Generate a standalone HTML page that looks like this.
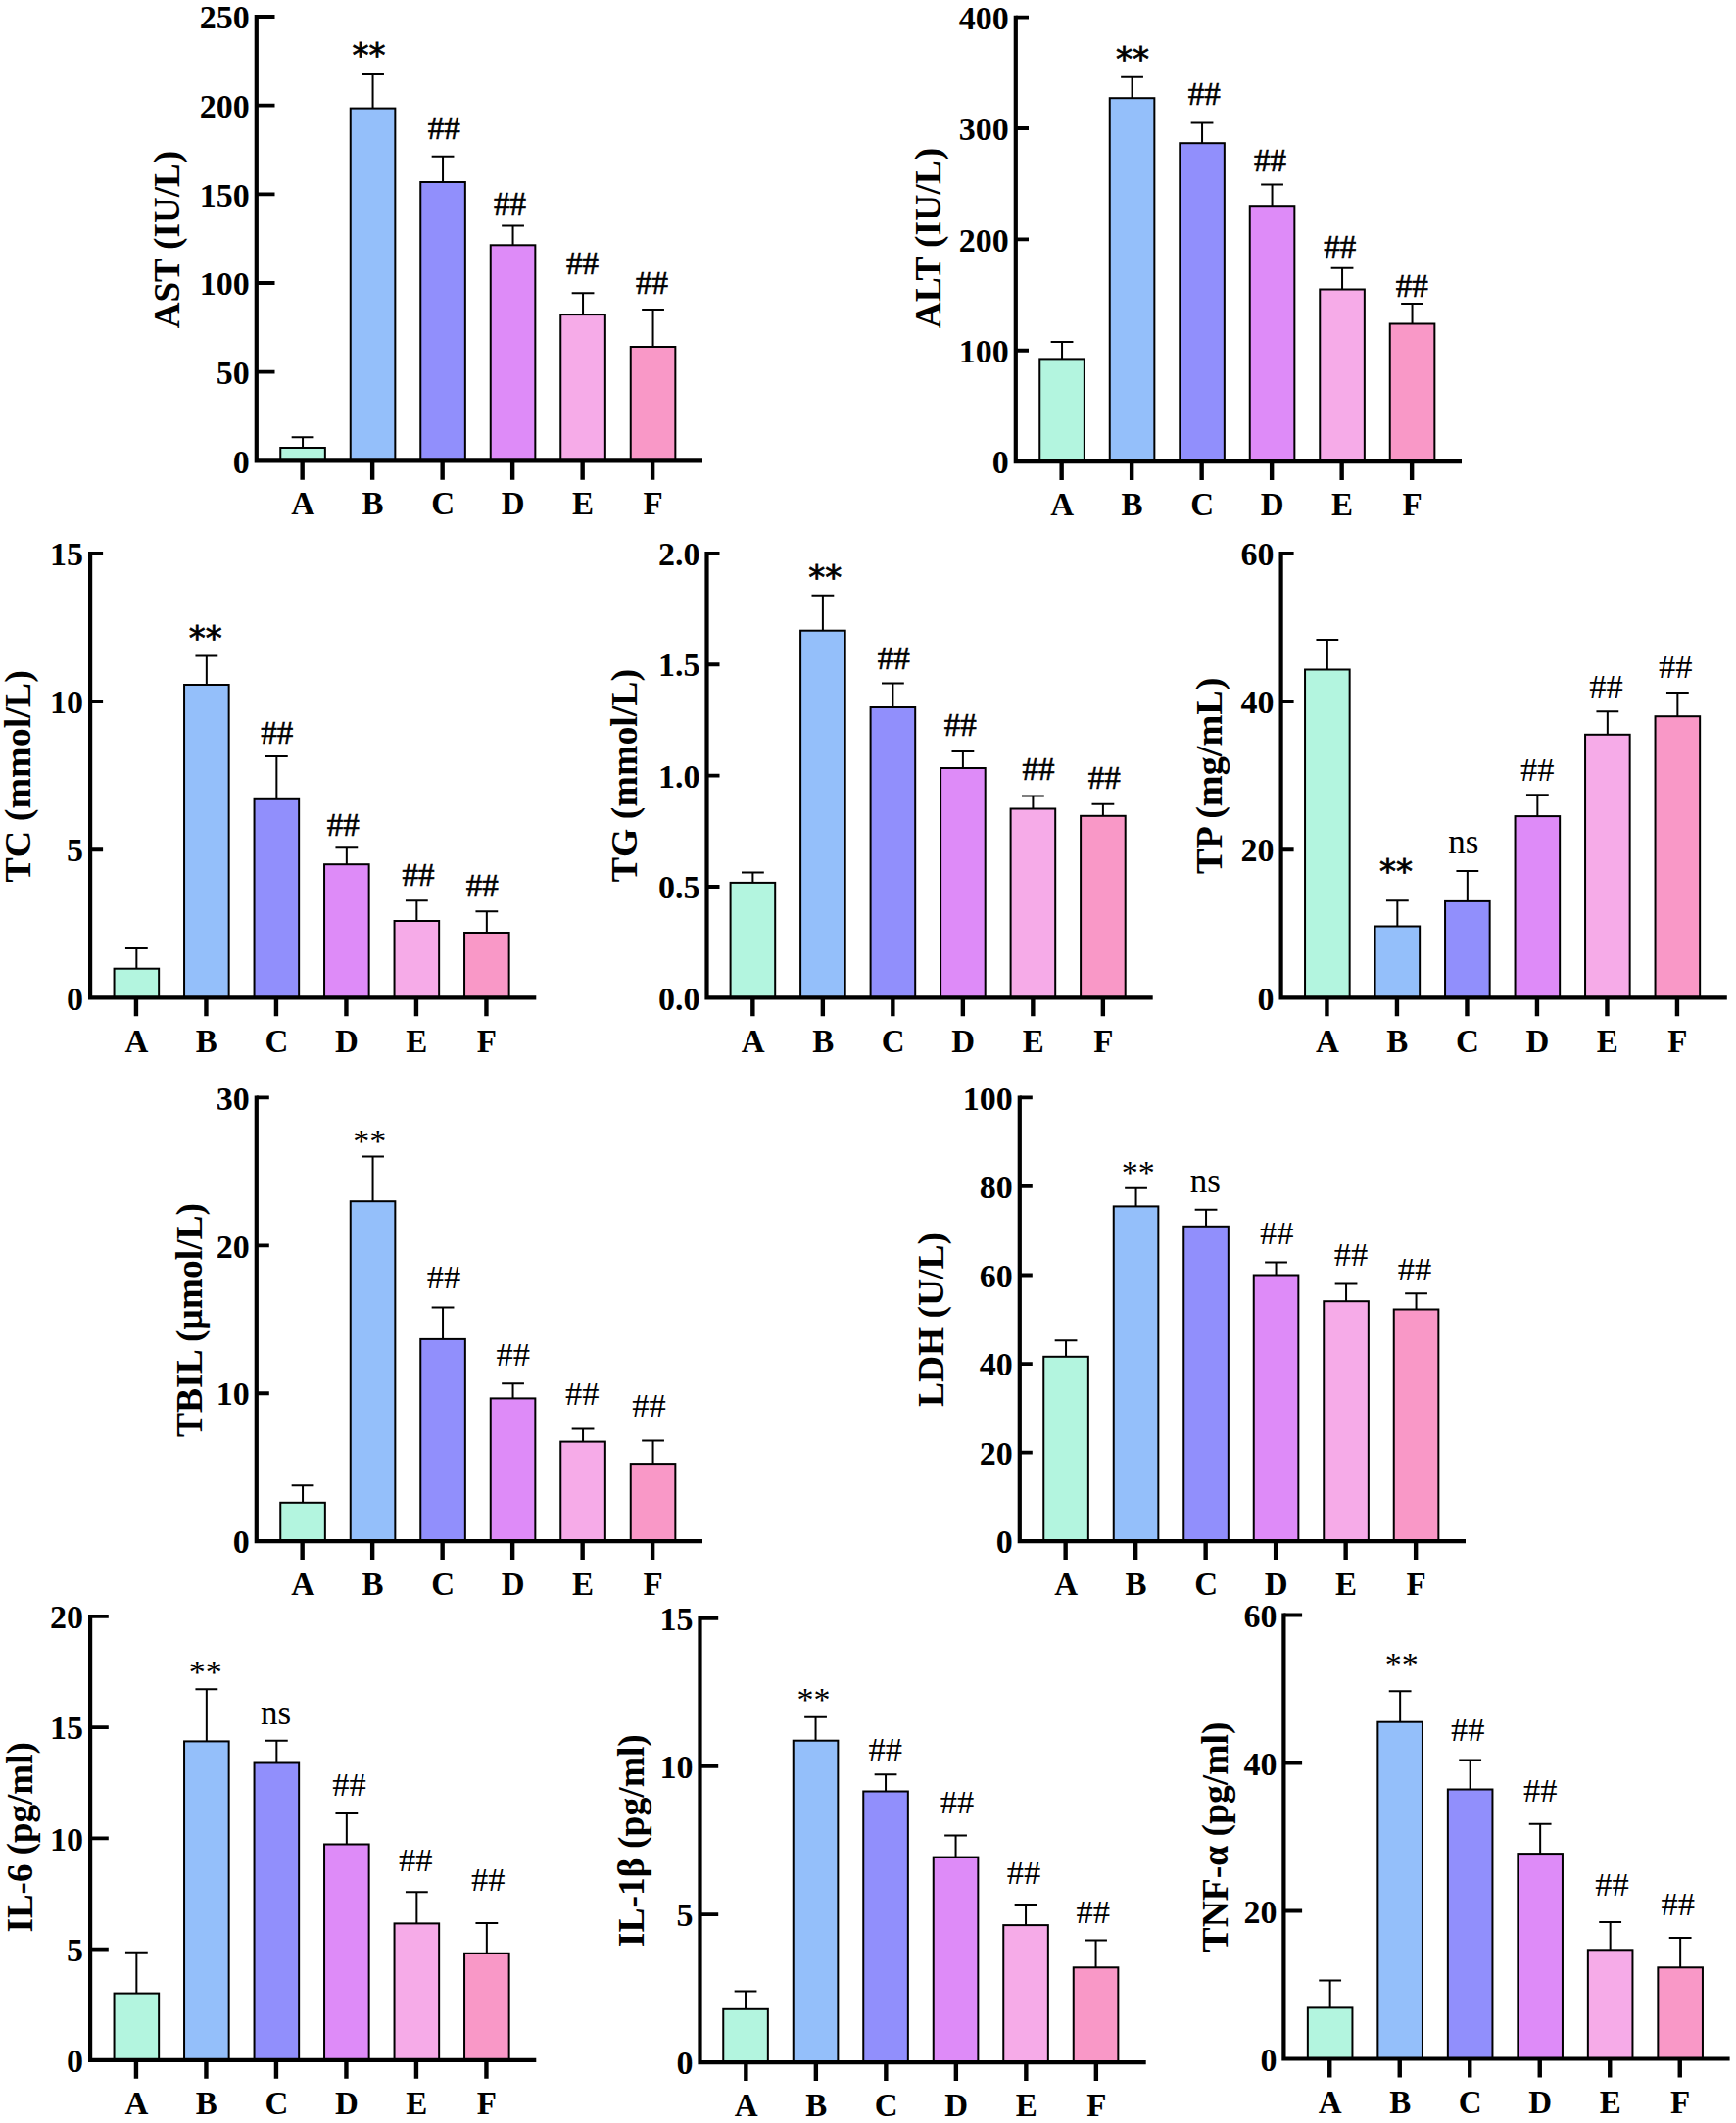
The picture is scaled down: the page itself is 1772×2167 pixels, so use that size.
<!DOCTYPE html>
<html lang="en"><head><meta charset="utf-8"><title>Serum biochemical indices</title>
<style>
html,body{margin:0;padding:0;background:#fff;}
svg{display:block;}
text{font-family:"Liberation Serif","Times New Roman",serif;fill:#000;}
.b{font-weight:bold;}
.tk{font-weight:bold;font-size:34px;text-anchor:end;}
.xl{font-weight:bold;font-size:33px;text-anchor:middle;}
.yl{font-weight:bold;font-size:37px;text-anchor:middle;}
.h{font-size:33px;text-anchor:middle;stroke:#000;stroke-width:0.6px;}
.sa{font-family:"DejaVu Sans","Liberation Sans",sans-serif;font-size:34px;text-anchor:middle;stroke:#000;stroke-width:0.8px;}
.sb{font-size:34px;text-anchor:middle;}
.hl{font-size:34.5px;text-anchor:middle;}
.ns{font-size:35px;text-anchor:middle;}
.ax{stroke:#000;stroke-width:4.2;fill:none;}
.tk2{stroke:#000;stroke-width:3.8;fill:none;}
.xt{stroke:#000;stroke-width:4.4;fill:none;}
.eb{stroke:#000;stroke-width:2;fill:none;}
.br{stroke:#000;stroke-width:2;}
</style></head><body>
<svg width="1772" height="2167" viewBox="0 0 1772 2167">
<rect x="0" y="0" width="1772" height="2167" fill="#fff"/>

<g>
<path class="eb" d="M309.05 457 V446.2 M297.65 446.2 H320.45"/>
<rect class="br" x="286.25" y="457" width="45.6" height="13.3" fill="#b3f5df"/>
<path class="eb" d="M380.55 110.6 V76 M369.15 76 H391.95"/>
<rect class="br" x="357.75" y="110.6" width="45.6" height="359.7" fill="#94bffa"/>
<path class="eb" d="M452.05 186 V159.7 M440.65 159.7 H463.45"/>
<rect class="br" x="429.25" y="186" width="45.6" height="284.3" fill="#918ffc"/>
<path class="eb" d="M523.55 250.3 V230.6 M512.15 230.6 H534.95"/>
<rect class="br" x="500.75" y="250.3" width="45.6" height="220" fill="#de8bf8"/>
<path class="eb" d="M595.05 321.1 V299.3 M583.65 299.3 H606.45"/>
<rect class="br" x="572.25" y="321.1" width="45.6" height="149.2" fill="#f6abe8"/>
<path class="eb" d="M666.55 354 V316 M655.15 316 H677.95"/>
<rect class="br" x="643.75" y="354" width="45.6" height="116.3" fill="#f998c7"/>
<path class="ax" d="M261.8 15.1 V470.3 H717"/>
<path class="tk2" d="M261.8 379.64 H280.5 M261.8 288.98 H280.5 M261.8 198.32 H280.5 M261.8 107.66 H280.5 M261.8 17 H280.5"/>
<path class="xt" d="M308.65 470.3 V489.8 M380.15 470.3 V489.8 M451.65 470.3 V489.8 M523.15 470.3 V489.8 M594.65 470.3 V489.8 M666.15 470.3 V489.8"/>
<text class="tk" x="254.8" y="482.5">0</text>
<text class="tk" x="254.8" y="391.84">50</text>
<text class="tk" x="254.8" y="301.18">100</text>
<text class="tk" x="254.8" y="210.52">150</text>
<text class="tk" x="254.8" y="119.86">200</text>
<text class="tk" x="254.8" y="29.2">250</text>
<text class="xl" x="309.05" y="525">A</text>
<text class="xl" x="380.55" y="525">B</text>
<text class="xl" x="452.05" y="525">C</text>
<text class="xl" x="523.55" y="525">D</text>
<text class="xl" x="595.05" y="525">E</text>
<text class="xl" x="666.55" y="525">F</text>
<text class="yl" style="font-size:37px" transform="translate(183 244.65) rotate(-90)">AST (IU/L)</text>
<text class="sa" x="376.55" y="67.78">**</text>
<text class="h" x="453.25" y="142">##</text>
<text class="h" x="520.55" y="219">##</text>
<text class="h" x="594.55" y="280">##</text>
<text class="h" x="665.55" y="300">##</text>
</g>
<g>
<path class="eb" d="M1084.05 366.4 V349 M1072.65 349 H1095.45"/>
<rect class="br" x="1061.25" y="366.4" width="45.6" height="104.7" fill="#b3f5df"/>
<path class="eb" d="M1155.55 100.2 V78.8 M1144.15 78.8 H1166.95"/>
<rect class="br" x="1132.75" y="100.2" width="45.6" height="370.9" fill="#94bffa"/>
<path class="eb" d="M1227.05 146.2 V125.5 M1215.65 125.5 H1238.45"/>
<rect class="br" x="1204.25" y="146.2" width="45.6" height="324.9" fill="#918ffc"/>
<path class="eb" d="M1298.55 210.2 V188.4 M1287.15 188.4 H1309.95"/>
<rect class="br" x="1275.75" y="210.2" width="45.6" height="260.9" fill="#de8bf8"/>
<path class="eb" d="M1370.05 295.5 V273.8 M1358.65 273.8 H1381.45"/>
<rect class="br" x="1347.25" y="295.5" width="45.6" height="175.6" fill="#f6abe8"/>
<path class="eb" d="M1441.55 330.5 V310 M1430.15 310 H1452.95"/>
<rect class="br" x="1418.75" y="330.5" width="45.6" height="140.6" fill="#f998c7"/>
<path class="ax" d="M1036.8 15.7 V471.1 H1492"/>
<path class="tk2" d="M1036.8 357.73 H1050 M1036.8 244.35 H1050 M1036.8 130.98 H1050 M1036.8 17.6 H1050"/>
<path class="xt" d="M1083.65 471.1 V490 M1155.15 471.1 V490 M1226.65 471.1 V490 M1298.15 471.1 V490 M1369.65 471.1 V490 M1441.15 471.1 V490"/>
<text class="tk" x="1029.8" y="483.3">0</text>
<text class="tk" x="1029.8" y="369.93">100</text>
<text class="tk" x="1029.8" y="256.55">200</text>
<text class="tk" x="1029.8" y="143.18">300</text>
<text class="tk" x="1029.8" y="29.8">400</text>
<text class="xl" x="1084.05" y="526.3">A</text>
<text class="xl" x="1155.55" y="526.3">B</text>
<text class="xl" x="1227.05" y="526.3">C</text>
<text class="xl" x="1298.55" y="526.3">D</text>
<text class="xl" x="1370.05" y="526.3">E</text>
<text class="xl" x="1441.55" y="526.3">F</text>
<text class="yl" style="font-size:37.5px" transform="translate(960 243.05) rotate(-90)">ALT (IU/L)</text>
<text class="sa" x="1156.05" y="71.98">**</text>
<text class="h" x="1229.35" y="107">##</text>
<text class="h" x="1296.55" y="174.6">##</text>
<text class="h" x="1367.85" y="263.1">##</text>
<text class="h" x="1441.25" y="302.8">##</text>
</g>
<g>
<path class="eb" d="M139.35 988.7 V968 M127.95 968 H150.75"/>
<rect class="br" x="116.55" y="988.7" width="45.6" height="29.7" fill="#b3f5df"/>
<path class="eb" d="M210.85 699 V669.6 M199.45 669.6 H222.25"/>
<rect class="br" x="188.05" y="699" width="45.6" height="319.4" fill="#94bffa"/>
<path class="eb" d="M282.35 815.8 V772 M270.95 772 H293.75"/>
<rect class="br" x="259.55" y="815.8" width="45.6" height="202.6" fill="#918ffc"/>
<path class="eb" d="M353.85 882.2 V865.3 M342.45 865.3 H365.25"/>
<rect class="br" x="331.05" y="882.2" width="45.6" height="136.2" fill="#de8bf8"/>
<path class="eb" d="M425.35 940 V919.2 M413.95 919.2 H436.75"/>
<rect class="br" x="402.55" y="940" width="45.6" height="78.4" fill="#f6abe8"/>
<path class="eb" d="M496.85 952 V930.3 M485.45 930.3 H508.25"/>
<rect class="br" x="474.05" y="952" width="45.6" height="66.4" fill="#f998c7"/>
<path class="ax" d="M92.1 563 V1018.4 H547.3"/>
<path class="tk2" d="M92.1 867.23 H105.1 M92.1 716.07 H105.1 M92.1 564.9 H105.1"/>
<path class="xt" d="M138.95 1018.4 V1037.3 M210.45 1018.4 V1037.3 M281.95 1018.4 V1037.3 M353.45 1018.4 V1037.3 M424.95 1018.4 V1037.3 M496.45 1018.4 V1037.3"/>
<text class="tk" x="85.1" y="1030.6">0</text>
<text class="tk" x="85.1" y="879.43">5</text>
<text class="tk" x="85.1" y="728.27">10</text>
<text class="tk" x="85.1" y="577.1">15</text>
<text class="xl" x="139.35" y="1073.6">A</text>
<text class="xl" x="210.85" y="1073.6">B</text>
<text class="xl" x="282.35" y="1073.6">C</text>
<text class="xl" x="353.85" y="1073.6">D</text>
<text class="xl" x="425.35" y="1073.6">E</text>
<text class="xl" x="496.85" y="1073.6">F</text>
<text class="yl" style="font-size:38px" transform="translate(31.4 792.35) rotate(-90)">TC (mmol/L)</text>
<text class="sa" x="209.85" y="663.28">**</text>
<text class="h" x="282.85" y="758.8">##</text>
<text class="h" x="350.35" y="852.8">##</text>
<text class="h" x="427.05" y="903.6">##</text>
<text class="h" x="492.25" y="914.8">##</text>
</g>
<g>
<path class="eb" d="M768.4 900.9 V890.5 M757 890.5 H779.8"/>
<rect class="br" x="745.6" y="900.9" width="45.6" height="117.5" fill="#b3f5df"/>
<path class="eb" d="M839.9 643.7 V607.7 M828.5 607.7 H851.3"/>
<rect class="br" x="817.1" y="643.7" width="45.6" height="374.7" fill="#94bffa"/>
<path class="eb" d="M911.4 722 V697.6 M900 697.6 H922.8"/>
<rect class="br" x="888.6" y="722" width="45.6" height="296.4" fill="#918ffc"/>
<path class="eb" d="M982.9 784 V767 M971.5 767 H994.3"/>
<rect class="br" x="960.1" y="784" width="45.6" height="234.4" fill="#de8bf8"/>
<path class="eb" d="M1054.4 825.5 V812.4 M1043 812.4 H1065.8"/>
<rect class="br" x="1031.6" y="825.5" width="45.6" height="192.9" fill="#f6abe8"/>
<path class="eb" d="M1125.9 832.8 V820.7 M1114.5 820.7 H1137.3"/>
<rect class="br" x="1103.1" y="832.8" width="45.6" height="185.6" fill="#f998c7"/>
<path class="ax" d="M721.5 563 V1018.4 H1176.7"/>
<path class="tk2" d="M721.5 905.02 H734.5 M721.5 791.65 H734.5 M721.5 678.27 H734.5 M721.5 564.9 H734.5"/>
<path class="xt" d="M768.35 1018.4 V1037.3 M839.85 1018.4 V1037.3 M911.35 1018.4 V1037.3 M982.85 1018.4 V1037.3 M1054.35 1018.4 V1037.3 M1125.85 1018.4 V1037.3"/>
<text class="tk" x="714.5" y="1030.6">0.0</text>
<text class="tk" x="714.5" y="917.23">0.5</text>
<text class="tk" x="714.5" y="803.85">1.0</text>
<text class="tk" x="714.5" y="690.48">1.5</text>
<text class="tk" x="714.5" y="577.1">2.0</text>
<text class="xl" x="768.75" y="1073.6">A</text>
<text class="xl" x="840.25" y="1073.6">B</text>
<text class="xl" x="911.75" y="1073.6">C</text>
<text class="xl" x="983.25" y="1073.6">D</text>
<text class="xl" x="1054.75" y="1073.6">E</text>
<text class="xl" x="1126.25" y="1073.6">F</text>
<text class="yl" style="font-size:37.8px" transform="translate(649.6 791.55) rotate(-90)">TG (mmol/L)</text>
<text class="sa" x="842.25" y="601.48">**</text>
<text class="h" x="912.35" y="682.9">##</text>
<text class="h" x="980.35" y="750.5">##</text>
<text class="h" x="1059.95" y="796">##</text>
<text class="h" x="1127.35" y="804.8">##</text>
</g>
<g>
<path class="eb" d="M1354.85 683.5 V653 M1343.45 653 H1366.25"/>
<rect class="br" x="1332.05" y="683.5" width="45.6" height="334.9" fill="#b3f5df"/>
<path class="eb" d="M1426.35 945.5 V919.2 M1414.95 919.2 H1437.75"/>
<rect class="br" x="1403.55" y="945.5" width="45.6" height="72.9" fill="#94bffa"/>
<path class="eb" d="M1497.85 919.9 V889.1 M1486.45 889.1 H1509.25"/>
<rect class="br" x="1475.05" y="919.9" width="45.6" height="98.5" fill="#918ffc"/>
<path class="eb" d="M1569.35 833.1 V811.3 M1557.95 811.3 H1580.75"/>
<rect class="br" x="1546.55" y="833.1" width="45.6" height="185.3" fill="#de8bf8"/>
<path class="eb" d="M1640.85 749.8 V726.3 M1629.45 726.3 H1652.25"/>
<rect class="br" x="1618.05" y="749.8" width="45.6" height="268.6" fill="#f6abe8"/>
<path class="eb" d="M1712.35 731.2 V707 M1700.95 707 H1723.75"/>
<rect class="br" x="1689.55" y="731.2" width="45.6" height="287.2" fill="#f998c7"/>
<path class="ax" d="M1307.6 563 V1018.4 H1762.8"/>
<path class="tk2" d="M1307.6 867.23 H1320.6 M1307.6 716.07 H1320.6 M1307.6 564.9 H1320.6"/>
<path class="xt" d="M1354.45 1018.4 V1037.3 M1425.95 1018.4 V1037.3 M1497.45 1018.4 V1037.3 M1568.95 1018.4 V1037.3 M1640.45 1018.4 V1037.3 M1711.95 1018.4 V1037.3"/>
<text class="tk" x="1300.6" y="1030.6">0</text>
<text class="tk" x="1300.6" y="879.43">20</text>
<text class="tk" x="1300.6" y="728.27">40</text>
<text class="tk" x="1300.6" y="577.1">60</text>
<text class="xl" x="1354.85" y="1073.6">A</text>
<text class="xl" x="1426.35" y="1073.6">B</text>
<text class="xl" x="1497.85" y="1073.6">C</text>
<text class="xl" x="1569.35" y="1073.6">D</text>
<text class="xl" x="1640.85" y="1073.6">E</text>
<text class="xl" x="1712.35" y="1073.6">F</text>
<text class="yl" style="font-size:38.2px" transform="translate(1246.7 791.85) rotate(-90)">TP (mg/mL)</text>
<text class="sa" x="1425.05" y="900.88">**</text>
<text class="ns" x="1493.85" y="871">ns</text>
<text class="hl" x="1569.35" y="796.5">##</text>
<text class="hl" x="1639.55" y="712.2">##</text>
<text class="hl" x="1710.15" y="692">##</text>
</g>
<g>
<path class="eb" d="M309.05 1533.8 V1516.2 M297.65 1516.2 H320.45"/>
<rect class="br" x="286.25" y="1533.8" width="45.6" height="39.4" fill="#b3f5df"/>
<path class="eb" d="M380.55 1226.2 V1180.6 M369.15 1180.6 H391.95"/>
<rect class="br" x="357.75" y="1226.2" width="45.6" height="347" fill="#94bffa"/>
<path class="eb" d="M452.05 1366.9 V1334.4 M440.65 1334.4 H463.45"/>
<rect class="br" x="429.25" y="1366.9" width="45.6" height="206.3" fill="#918ffc"/>
<path class="eb" d="M523.55 1427.4 V1412.2 M512.15 1412.2 H534.95"/>
<rect class="br" x="500.75" y="1427.4" width="45.6" height="145.8" fill="#de8bf8"/>
<path class="eb" d="M595.05 1471.6 V1458.5 M583.65 1458.5 H606.45"/>
<rect class="br" x="572.25" y="1471.6" width="45.6" height="101.6" fill="#f6abe8"/>
<path class="eb" d="M666.55 1494.1 V1470.6 M655.15 1470.6 H677.95"/>
<rect class="br" x="643.75" y="1494.1" width="45.6" height="79.1" fill="#f998c7"/>
<path class="ax" d="M261.8 1118.5 V1573.2 H717"/>
<path class="tk2" d="M261.8 1422.27 H274.8 M261.8 1271.33 H274.8 M261.8 1120.4 H274.8"/>
<path class="xt" d="M308.65 1573.2 V1592.1 M380.15 1573.2 V1592.1 M451.65 1573.2 V1592.1 M523.15 1573.2 V1592.1 M594.65 1573.2 V1592.1 M666.15 1573.2 V1592.1"/>
<text class="tk" x="254.8" y="1585.4">0</text>
<text class="tk" x="254.8" y="1434.47">10</text>
<text class="tk" x="254.8" y="1283.53">20</text>
<text class="tk" x="254.8" y="1132.6">30</text>
<text class="xl" x="309.05" y="1628.4">A</text>
<text class="xl" x="380.55" y="1628.4">B</text>
<text class="xl" x="452.05" y="1628.4">C</text>
<text class="xl" x="523.55" y="1628.4">D</text>
<text class="xl" x="595.05" y="1628.4">E</text>
<text class="xl" x="666.55" y="1628.4">F</text>
<text class="yl" style="font-size:37.5px" transform="translate(205.9 1347.45) rotate(-90)">TBIL (μmol/L)</text>
<text class="sb" x="377.35" y="1176.43">**</text>
<text class="hl" x="453.05" y="1314.7">##</text>
<text class="hl" x="523.85" y="1394.2">##</text>
<text class="hl" x="594.25" y="1434">##</text>
<text class="hl" x="662.55" y="1445.5">##</text>
</g>
<g>
<path class="eb" d="M1088.05 1384.8 V1368.3 M1076.65 1368.3 H1099.45"/>
<rect class="br" x="1065.25" y="1384.8" width="45.6" height="188.4" fill="#b3f5df"/>
<path class="eb" d="M1159.55 1231.4 V1212.7 M1148.15 1212.7 H1170.95"/>
<rect class="br" x="1136.75" y="1231.4" width="45.6" height="341.8" fill="#94bffa"/>
<path class="eb" d="M1231.05 1251.8 V1234.8 M1219.65 1234.8 H1242.45"/>
<rect class="br" x="1208.25" y="1251.8" width="45.6" height="321.4" fill="#918ffc"/>
<path class="eb" d="M1302.55 1301.5 V1288.4 M1291.15 1288.4 H1313.95"/>
<rect class="br" x="1279.75" y="1301.5" width="45.6" height="271.7" fill="#de8bf8"/>
<path class="eb" d="M1374.05 1328.2 V1310.5 M1362.65 1310.5 H1385.45"/>
<rect class="br" x="1351.25" y="1328.2" width="45.6" height="245" fill="#f6abe8"/>
<path class="eb" d="M1445.55 1336.5 V1320.2 M1434.15 1320.2 H1456.95"/>
<rect class="br" x="1422.75" y="1336.5" width="45.6" height="236.7" fill="#f998c7"/>
<path class="ax" d="M1040.8 1118.5 V1573.2 H1496"/>
<path class="tk2" d="M1040.8 1482.64 H1053.8 M1040.8 1392.08 H1053.8 M1040.8 1301.52 H1053.8 M1040.8 1210.96 H1053.8 M1040.8 1120.4 H1053.8"/>
<path class="xt" d="M1087.65 1573.2 V1592.1 M1159.15 1573.2 V1592.1 M1230.65 1573.2 V1592.1 M1302.15 1573.2 V1592.1 M1373.65 1573.2 V1592.1 M1445.15 1573.2 V1592.1"/>
<text class="tk" x="1033.8" y="1585.4">0</text>
<text class="tk" x="1033.8" y="1494.84">20</text>
<text class="tk" x="1033.8" y="1404.28">40</text>
<text class="tk" x="1033.8" y="1313.72">60</text>
<text class="tk" x="1033.8" y="1223.16">80</text>
<text class="tk" x="1033.8" y="1132.6">100</text>
<text class="xl" x="1088.05" y="1628.4">A</text>
<text class="xl" x="1159.55" y="1628.4">B</text>
<text class="xl" x="1231.05" y="1628.4">C</text>
<text class="xl" x="1302.55" y="1628.4">D</text>
<text class="xl" x="1374.05" y="1628.4">E</text>
<text class="xl" x="1445.55" y="1628.4">F</text>
<text class="yl" style="font-size:37.5px" transform="translate(963.3 1346.95) rotate(-90)">LDH (U/L)</text>
<text class="sb" x="1161.75" y="1208.03">**</text>
<text class="ns" x="1230.35" y="1217.2">ns</text>
<text class="hl" x="1303.15" y="1269.7">##</text>
<text class="hl" x="1379.05" y="1292.2">##</text>
<text class="hl" x="1443.95" y="1306.7">##</text>
</g>
<g>
<path class="eb" d="M139.35 2034.6 V1992.7 M127.95 1992.7 H150.75"/>
<rect class="br" x="116.55" y="2034.6" width="45.6" height="68.2" fill="#b3f5df"/>
<path class="eb" d="M210.85 1777.4 V1724.2 M199.45 1724.2 H222.25"/>
<rect class="br" x="188.05" y="1777.4" width="45.6" height="325.4" fill="#94bffa"/>
<path class="eb" d="M282.35 1799.5 V1776.7 M270.95 1776.7 H293.75"/>
<rect class="br" x="259.55" y="1799.5" width="45.6" height="303.3" fill="#918ffc"/>
<path class="eb" d="M353.85 1882.5 V1851 M342.45 1851 H365.25"/>
<rect class="br" x="331.05" y="1882.5" width="45.6" height="220.3" fill="#de8bf8"/>
<path class="eb" d="M425.35 1963.4 V1931.2 M413.95 1931.2 H436.75"/>
<rect class="br" x="402.55" y="1963.4" width="45.6" height="139.4" fill="#f6abe8"/>
<path class="eb" d="M496.85 1993.8 V1963 M485.45 1963 H508.25"/>
<rect class="br" x="474.05" y="1993.8" width="45.6" height="109" fill="#f998c7"/>
<path class="ax" d="M92.1 1647.9 V2102.8 H547.3"/>
<path class="tk2" d="M92.1 1989.55 H110.8 M92.1 1876.3 H110.8 M92.1 1763.05 H110.8 M92.1 1649.8 H110.8"/>
<path class="xt" d="M138.95 2102.8 V2121.7 M210.45 2102.8 V2121.7 M281.95 2102.8 V2121.7 M353.45 2102.8 V2121.7 M424.95 2102.8 V2121.7 M496.45 2102.8 V2121.7"/>
<text class="tk" x="85.1" y="2115">0</text>
<text class="tk" x="85.1" y="2001.75">5</text>
<text class="tk" x="85.1" y="1888.5">10</text>
<text class="tk" x="85.1" y="1775.25">15</text>
<text class="tk" x="85.1" y="1662">20</text>
<text class="xl" x="139.35" y="2158">A</text>
<text class="xl" x="210.85" y="2158">B</text>
<text class="xl" x="282.35" y="2158">C</text>
<text class="xl" x="353.85" y="2158">D</text>
<text class="xl" x="425.35" y="2158">E</text>
<text class="xl" x="496.85" y="2158">F</text>
<text class="yl" style="font-size:37px" transform="translate(32.8 1875.35) rotate(-90)">IL-6 (pg/ml)</text>
<text class="sb" x="209.85" y="1717.73">**</text>
<text class="ns" x="281.65" y="1760.4">ns</text>
<text class="hl" x="356.45" y="1833.3">##</text>
<text class="hl" x="424.35" y="1910.1">##</text>
<text class="hl" x="498.25" y="1929.8">##</text>
</g>
<g>
<path class="eb" d="M761.05 2050.8 V2032.5 M749.65 2032.5 H772.45"/>
<rect class="br" x="738.25" y="2050.8" width="45.6" height="54.3" fill="#b3f5df"/>
<path class="eb" d="M832.55 1776.7 V1752.8 M821.15 1752.8 H843.95"/>
<rect class="br" x="809.75" y="1776.7" width="45.6" height="328.4" fill="#94bffa"/>
<path class="eb" d="M904.05 1828.5 V1811.3 M892.65 1811.3 H915.45"/>
<rect class="br" x="881.25" y="1828.5" width="45.6" height="276.6" fill="#918ffc"/>
<path class="eb" d="M975.55 1895.6 V1873.5 M964.15 1873.5 H986.95"/>
<rect class="br" x="952.75" y="1895.6" width="45.6" height="209.5" fill="#de8bf8"/>
<path class="eb" d="M1047.05 1965.1 V1944 M1035.65 1944 H1058.45"/>
<rect class="br" x="1024.25" y="1965.1" width="45.6" height="140" fill="#f6abe8"/>
<path class="eb" d="M1118.55 2008.3 V1980.6 M1107.15 1980.6 H1129.95"/>
<rect class="br" x="1095.75" y="2008.3" width="45.6" height="96.8" fill="#f998c7"/>
<path class="ax" d="M714.5 1650 V2105.1 H1169.7"/>
<path class="tk2" d="M714.5 1954.03 H733.2 M714.5 1802.97 H733.2 M714.5 1651.9 H733.2"/>
<path class="xt" d="M761.35 2105.1 V2124 M832.85 2105.1 V2124 M904.35 2105.1 V2124 M975.85 2105.1 V2124 M1047.35 2105.1 V2124 M1118.85 2105.1 V2124"/>
<text class="tk" x="707.5" y="2117.3">0</text>
<text class="tk" x="707.5" y="1966.23">5</text>
<text class="tk" x="707.5" y="1815.17">10</text>
<text class="tk" x="707.5" y="1664.1">15</text>
<text class="xl" x="761.75" y="2160.3">A</text>
<text class="xl" x="833.25" y="2160.3">B</text>
<text class="xl" x="904.75" y="2160.3">C</text>
<text class="xl" x="976.25" y="2160.3">D</text>
<text class="xl" x="1047.75" y="2160.3">E</text>
<text class="xl" x="1119.25" y="2160.3">F</text>
<text class="yl" style="font-size:37.6px" transform="translate(656.7 1878.65) rotate(-90)">IL-1β (pg/ml)</text>
<text class="sb" x="830.55" y="1746.43">**</text>
<text class="hl" x="903.75" y="1796.7">##</text>
<text class="hl" x="976.95" y="1850.9">##</text>
<text class="hl" x="1045.05" y="1923.2">##</text>
<text class="hl" x="1115.75" y="1963.4">##</text>
</g>
<g>
<path class="eb" d="M1357.65 2049.4 V2021.4 M1346.25 2021.4 H1369.05"/>
<rect class="br" x="1334.85" y="2049.4" width="45.6" height="52.1" fill="#b3f5df"/>
<path class="eb" d="M1429.15 1757.7 V1726.2 M1417.75 1726.2 H1440.55"/>
<rect class="br" x="1406.35" y="1757.7" width="45.6" height="343.8" fill="#94bffa"/>
<path class="eb" d="M1500.65 1826.5 V1796.4 M1489.25 1796.4 H1512.05"/>
<rect class="br" x="1477.85" y="1826.5" width="45.6" height="275" fill="#918ffc"/>
<path class="eb" d="M1572.15 1892.1 V1861.7 M1560.75 1861.7 H1583.55"/>
<rect class="br" x="1549.35" y="1892.1" width="45.6" height="209.4" fill="#de8bf8"/>
<path class="eb" d="M1643.65 1990.3 V1962 M1632.25 1962 H1655.05"/>
<rect class="br" x="1620.85" y="1990.3" width="45.6" height="111.2" fill="#f6abe8"/>
<path class="eb" d="M1715.15 2008.3 V1977.9 M1703.75 1977.9 H1726.55"/>
<rect class="br" x="1692.35" y="2008.3" width="45.6" height="93.2" fill="#f998c7"/>
<path class="ax" d="M1310.4 1646.6 V2101.5 H1765.6"/>
<path class="tk2" d="M1310.4 1950.5 H1329.1 M1310.4 1799.5 H1329.1 M1310.4 1648.5 H1329.1"/>
<path class="xt" d="M1357.25 2101.5 V2120.4 M1428.75 2101.5 V2120.4 M1500.25 2101.5 V2120.4 M1571.75 2101.5 V2120.4 M1643.25 2101.5 V2120.4 M1714.75 2101.5 V2120.4"/>
<text class="tk" x="1303.4" y="2113.7">0</text>
<text class="tk" x="1303.4" y="1962.7">20</text>
<text class="tk" x="1303.4" y="1811.7">40</text>
<text class="tk" x="1303.4" y="1660.7">60</text>
<text class="xl" x="1357.65" y="2156.7">A</text>
<text class="xl" x="1429.15" y="2156.7">B</text>
<text class="xl" x="1500.65" y="2156.7">C</text>
<text class="xl" x="1572.15" y="2156.7">D</text>
<text class="xl" x="1643.65" y="2156.7">E</text>
<text class="xl" x="1715.15" y="2156.7">F</text>
<text class="yl" style="font-size:37.6px" transform="translate(1252.8 1874.95) rotate(-90)">TNF-α (pg/ml)</text>
<text class="sb" x="1430.75" y="1709.73">**</text>
<text class="hl" x="1498.25" y="1776.7">##</text>
<text class="hl" x="1572.15" y="1838.9">##</text>
<text class="hl" x="1645.45" y="1935.2">##</text>
<text class="hl" x="1712.85" y="1955.2">##</text>
</g>
</svg>
</body></html>
